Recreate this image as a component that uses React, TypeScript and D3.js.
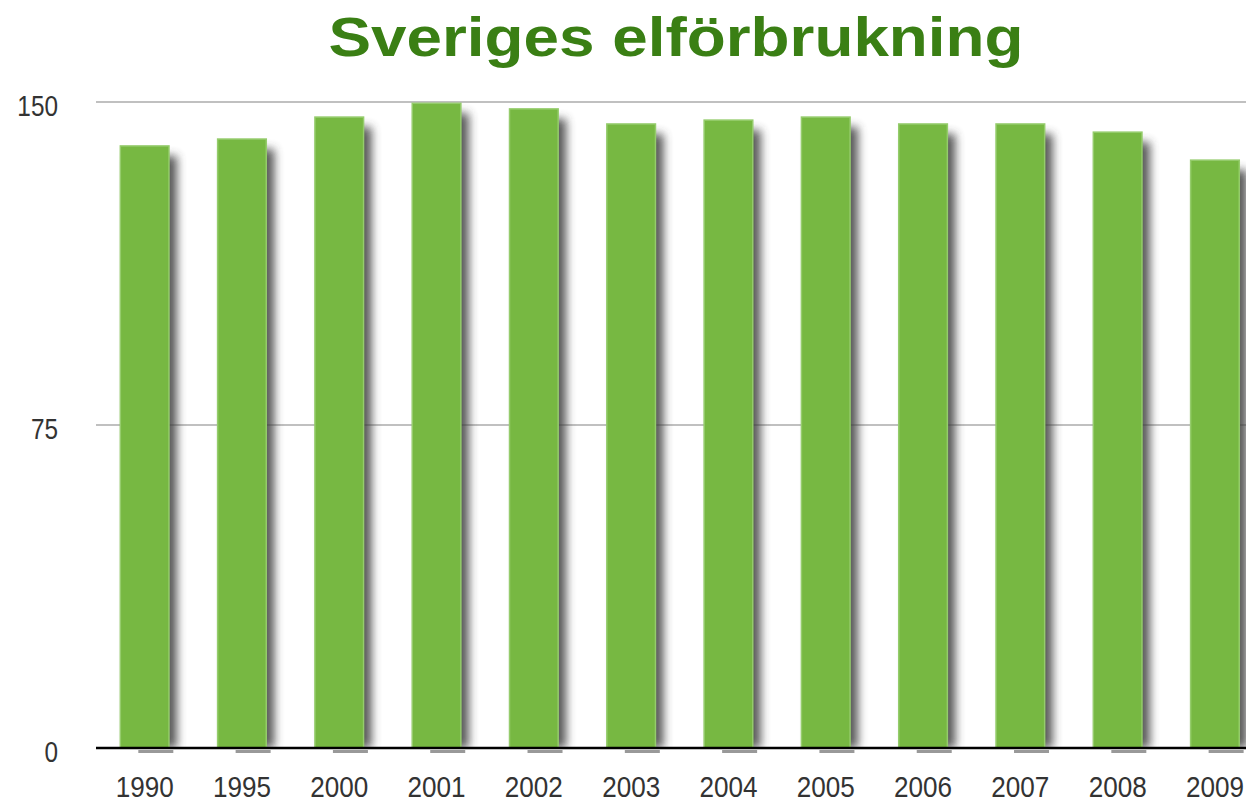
import React from "react";
import * as d3 from "d3";

const years = ["1990", "1995", "2000", "2001", "2002", "2003", "2004", "2005", "2006", "2007", "2008", "2009"];
const consumption = [139.8, 141.4, 146.5, 149.7, 148.4, 144.9, 145.8, 146.5, 144.9, 144.9, 143.0, 136.5];
const yTicks = [0, 75, 150];

const width = 1246;
const height = 802;
const left = 96;
const top = 102;
const bottom = 748;

const App: React.FC = () => {
  const x = d3
    .scaleBand<string>()
    .domain(years)
    .range([left, left + 12 * 97.3])
    .paddingInner(0.5)
    .paddingOuter(0.25);
  const y = d3.scaleLinear().domain([0, 150]).range([bottom, top]);
  const font = "Liberation Sans, Arial, sans-serif";

  return (
    <svg width={width} height={height} style={{ position: "absolute", left: 0, top: 0 }}>
      <defs>
        <filter id="shadow" x="-50%" y="-10%" width="200%" height="120%">
          <feGaussianBlur stdDeviation="5" />
        </filter>
        <clipPath id="plotClip">
          <rect x={left} y={0} width={width - left} height={bottom} />
        </clipPath>
      </defs>
      <rect width={width} height={height} fill="#fff" />
      <text
        x={0}
        y={0}
        textAnchor="middle"
        fontFamily={font}
        fontWeight="bold"
        fontSize={56}
        fill="#3a7f14"
        transform="translate(676,56) scale(1.14,1)"
      >
        Sveriges elförbrukning
      </text>

      {yTicks.slice(1).map((t) => (
        <line key={t} x1={left} x2={width} y1={y(t)} y2={y(t)} stroke="#c0c0c0" strokeWidth={2} />
      ))}

      <g clipPath="url(#plotClip)">
        {years.map((yr, i) => (
          <rect
            key={"s" + yr}
            x={(x(yr) ?? 0) + 8}
            y={y(consumption[i]) + 10}
            width={x.bandwidth()}
            height={bottom - y(consumption[i]) - 10}
            fill="#3a3a3a"
            opacity={0.85}
            filter="url(#shadow)"
          />
        ))}
      </g>

      {years.map((yr, i) => {
        const cx = (x(yr) ?? 0) + x.bandwidth() / 2;
        return (
          <g key={yr}>
            <rect
              x={x(yr) ?? 0}
              y={y(consumption[i])}
              width={x.bandwidth()}
              height={bottom - y(consumption[i])}
              fill="#77b842"
              stroke="#95cc6c"
              strokeWidth={1.5}
            />
            <rect x={(x(yr) ?? 0) + 18} y={750} width={35} height={3} fill="#999" />
            <text
              x={0}
              y={0}
              textAnchor="middle"
              fontFamily={font}
              fontSize={29}
              fill="#333"
              transform={`translate(${cx},797) scale(0.9,1)`}
            >
              {yr}
            </text>
          </g>
        );
      })}

      <line x1={left} x2={width} y1={bottom} y2={bottom} stroke="#000" strokeWidth={2.5} />

      {yTicks.map((t) => (
        <text
          key={t}
          x={0}
          y={0}
          textAnchor="end"
          fontFamily={font}
          fontSize={29}
          fill="#333"
          transform={`translate(58,${y(t) + 14}) scale(0.84,1)`}
        >
          {t}
        </text>
      ))}
    </svg>
  );
};

export default App;
